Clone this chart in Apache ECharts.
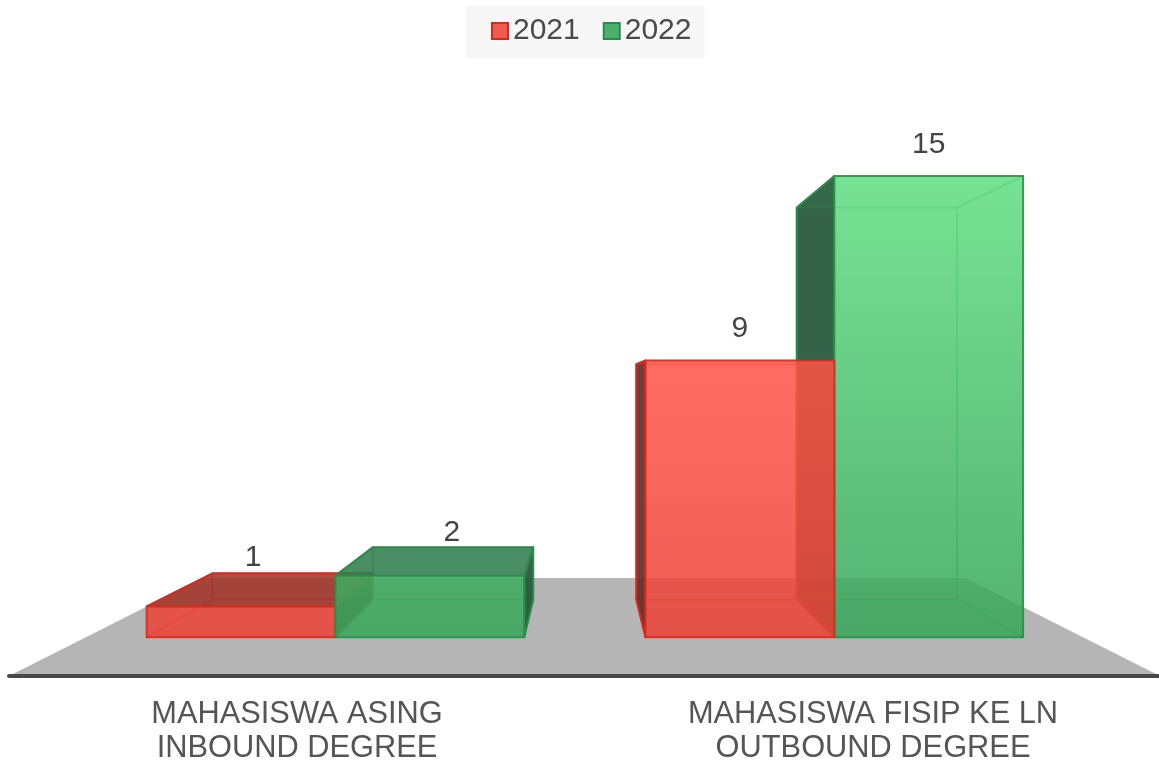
<!DOCTYPE html>
<html><head><meta charset="utf-8">
<style>html,body{margin:0;padding:0;background:#fff}#c{width:1159px;height:761px}</style>
<script src="https://cdn.jsdelivr.net/npm/echarts@6/dist/echarts.min.js"></script></head>
<body><div id="c"></div>
<script>
const categories = ['MAHASISWA ASING\nINBOUND DEGREE', 'MAHASISWA FISIP KE LN\nOUTBOUND DEGREE'];
const names = ['2021', '2022'];
const values2021 = [1, 9];
const values2022 = [2, 15];

// view model of the 3D box
const VX = 584, VY = 386, K_FRONT = 0.866, K_BACK = 0.736, K_FLOOR = 0.662, BAR_RATIO = 0.3785;
// per-bar label nudge from the top-centre of the front face (category_series)
const labelNudge = {'0_0': [12, -49], '0_1': [22, -43], '1_0': [0, -32], '1_1': [0, -31]};
const skins = [
  {top: [[0, 'rgb(255,90,78)'], [0.4, 'rgb(255,84,72)'], [1, 'rgb(234,66,54)']], edge: 'rgb(214,42,28)', faint: 'rgba(214,50,35,0.4)', side: 'rgba(100,42,38,0.9)', lid: 'rgba(160,48,38,0.85)', inner: 'rgba(230,70,60,0.06)'},
  {top: [[0, 'rgb(96,222,130)'], [1, 'rgb(56,165,90)']], edge: 'rgb(42,140,72)', faint: 'rgba(45,150,80,0.4)', side: 'rgba(36,86,58,0.92)', lid: 'rgba(48,125,78,0.88)', inner: 'rgba(60,170,95,0.06)'}
];
const P = (x, y, k) => [VX + k * (x - VX), VY + k * (y - VY)];

function renderBar(params, api) {
  const s = params.seriesIndex - 1, cat = api.value(0), val = api.value(1);
  const base = api.coord([cat, 0]), top = api.coord([cat, val]);
  const w = api.size([1, 0])[0] * BAR_RATIO;
  const x0 = base[0] - (s === 0 ? w : 0), x1 = x0 + w, y0 = base[1], y1 = top[1];
  const skin = skins[s];
  const order = (cat === 0 ? s : 1 - s) * 20;
  const gradTop = P(0, api.coord([0, 15])[1], K_FRONT)[1], gradBot = P(0, y0, K_FRONT)[1];
  const grad = {type: 'linear', x: 0, y: gradTop, x2: 0, y2: gradBot, global: true,
    colorStops: skin.top.map(c => ({offset: c[0], color: c[1]}))};
  const F = (x, y) => P(x, y, K_FRONT), B = (x, y) => P(x, y, K_BACK);
  const poly = (pts, fill, stroke, lw, z) => ({type: 'polygon', z2: order + z,
    shape: {points: pts}, style: {fill: fill, stroke: stroke, lineWidth: lw, lineJoin: 'round'}});
  const leftOut = F(x0, y0)[0] > VX, rightOut = F(x1, y0)[0] < VX, topOut = F(x0, y1)[1] > VY;
  const children = [
    poly([B(x0, y1), B(x1, y1), B(x1, y0), B(x0, y0)], skin.inner, skin.faint, 1.5, 1),
    poly([F(x0, y0), F(x1, y0), B(x1, y0), B(x0, y0)], skin.inner, skin.faint, 1.5, 2),
    poly([F(x0, y1), B(x0, y1), B(x0, y0), F(x0, y0)], leftOut ? skin.side : skin.inner, leftOut ? skin.edge : skin.faint, leftOut ? 2 : 1.5, leftOut ? 4 : 3),
    poly([F(x1, y1), B(x1, y1), B(x1, y0), F(x1, y0)], rightOut ? skin.side : skin.inner, rightOut ? skin.edge : skin.faint, rightOut ? 2 : 1.5, rightOut ? 4 : 3),
    poly([F(x0, y1), F(x1, y1), B(x1, y1), B(x0, y1)], topOut ? skin.lid : skin.inner, topOut ? skin.edge : skin.faint, topOut ? 2 : 1.5, 5),
    {type: 'polygon', z2: order + 6, shape: {points: [F(x0, y1), F(x1, y1), F(x1, y0), F(x0, y0)]},
      style: {fill: grad, stroke: skin.edge, lineWidth: 2, opacity: 0.85, lineJoin: 'round'}}
  ];
  const n = labelNudge[cat + '_' + s], ft = F((x0 + x1) / 2, y1);
  children.push({type: 'text', z2: 60, style: {text: String(val), x: ft[0] + n[0], y: ft[1] + n[1],
    align: 'center', verticalAlign: 'middle', fill: '#444', font: '30px "Liberation Sans", Arial, sans-serif'}});
  return {type: 'group', children: children};
}
function renderFloor(params, api) {
  const g = params.coordSys, yb = api.coord([0, 0])[1], xl = g.x, xr = g.x + g.width - 1;
  return {type: 'polygon', z2: 0, shape: {points: [[xl, yb], [xr, yb], P(xr, yb, K_FLOOR), P(xl, yb, K_FLOOR)]},
    style: {fill: '#b5b5b5'}};
}
const legendColors = [['#ee5a4e', '#d42c1c'], ['#4cb06c', '#268c4a']];
const chart = echarts.init(document.getElementById('c'), null, {renderer: 'canvas'});
chart.setOption({
  animation: false,
  backgroundColor: '#fff',
  legend: {
    left: 466, top: 5, padding: [11, 13, 13, 25], itemGap: 23, itemWidth: 16, itemHeight: 16, borderRadius: 0,
    backgroundColor: '#f7f7f7',
    textStyle: {color: '#4a4a4a', fontSize: 30, fontFamily: '"Liberation Sans", Arial, sans-serif', padding: [9, 0, 0, 0]},
    data: names.map((n, i) => ({name: n, icon: 'rect', itemStyle: {color: legendColors[i][0], borderColor: legendColors[i][1], borderWidth: 2}}))
  },
  grid: {left: 9, width: 1152, top: 37, height: 639, outerBoundsMode: 'none'},
  xAxis: {type: 'category', data: categories, z: 8, axisTick: {show: false},
    axisLine: {lineStyle: {color: '#484848', width: 4, cap: 'round'}},
    axisLabel: {color: '#555', fontSize: 30.8, lineHeight: 34, margin: 22, interval: 0, fontFamily: '"Liberation Sans", Arial, sans-serif'}},
  yAxis: {type: 'value', min: 0, max: 18, show: false},
  series: [
    {type: 'custom', name: 'floor', silent: true, renderItem: renderFloor, data: [[0, 0]], encode: {x: 0, y: 1}, tooltip: {show: false}},
    {type: 'custom', name: names[0], renderItem: renderBar, encode: {x: 0, y: 1}, itemStyle: {color: legendColors[0][0]},
      data: values2021.map((v, i) => [i, v])},
    {type: 'custom', name: names[1], renderItem: renderBar, encode: {x: 0, y: 1}, itemStyle: {color: legendColors[1][0]},
      data: values2022.map((v, i) => [i, v])}
  ]
});
</script></body></html>
